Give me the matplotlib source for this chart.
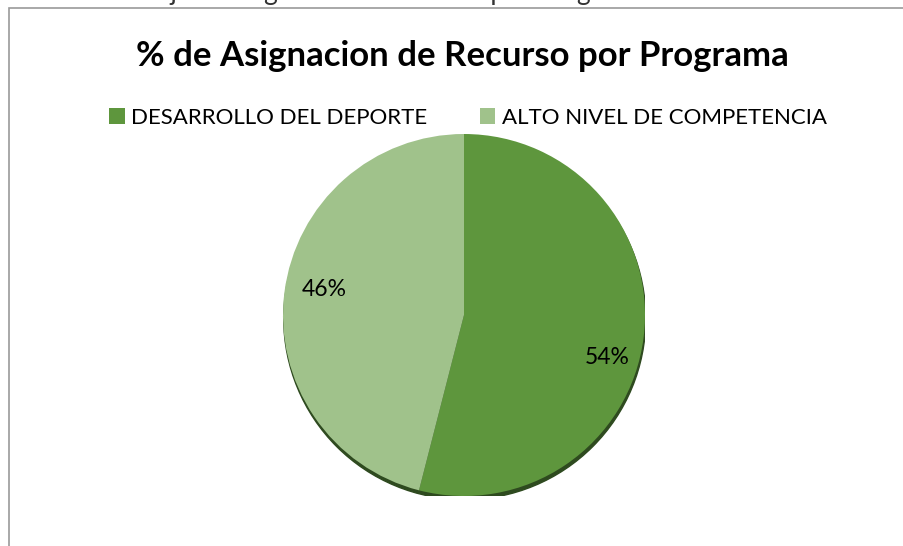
import matplotlib.pyplot as plt
from matplotlib.patches import Patch, Rectangle, Circle

# datos
programas = ['DESARROLLO DEL DEPORTE', 'ALTO NIVEL DE COMPETENCIA']
porcentajes = [54, 46]
colores = ['#5E963D', '#A0C28B']
titulo = '% de Asignacion de Recurso por Programa'
texto_arriba = 'Porcentaje de asignacion de recurso por Programa Por Entidad'

plt.rcParams['font.family'] = ['Lato', 'DejaVu Sans']

W, H = 904, 546
fig = plt.figure(figsize=(W / 100, H / 100), dpi=100)
fig.patch.set_facecolor('white')

# marco del grafico (recortado a la derecha y abajo)
fig.patches.append(Rectangle((9 / W, -0.2), 1.2, 1.2 - 8 / H, transform=fig.transFigure,
                             fill=False, edgecolor='#9a9a9a', linewidth=1.2))

# texto del documento, cortado arriba como en el original
fig.text(428 / W, 1 - 0 / H, texto_arriba, ha='center', va='baseline',
         fontsize=19, color='#333333')

fig.text(462 / W, 1 - 56 / H, titulo, ha='center', va='center',
         fontsize=25, fontweight='bold', color='black')

# pie
cx, cy, r = 464, 315, 181
ax = fig.add_axes([(cx - r) / W, (H - cy - r) / H, 2 * r / W, 2 * r / H])

# sombra bajo el pie
ax.add_patch(Circle((0.004, -0.02), 1.0, color='#2E4A1F', zorder=0))

wedges, textos = ax.pie(porcentajes, colors=colores, startangle=90, counterclock=False,
                        radius=1.0, wedgeprops=dict(linewidth=0))
for w in wedges:
    w.set_zorder(1)
ax.set_xlim(-1, 1)
ax.set_ylim(-1, 1)
ax.set_aspect('equal')
ax.axis('off')

etq = [(607, 357), (324, 290)]
for p, (x, y) in zip(porcentajes, etq):
    fig.text(x / W, 1 - y / H, f'{p}%', ha='center', va='center', fontsize=16.5, color='black')

handles = [Patch(facecolor=c, edgecolor='none') for c in colores]
fig.legend(handles, programas, loc='center', bbox_to_anchor=(468 / W, 1 - 118 / H),
           ncol=2, frameon=False, fontsize=16, handlelength=0.7, handleheight=0.7,
           handletextpad=0.3, columnspacing=2.35)

fig.savefig('out.png', dpi=100)
